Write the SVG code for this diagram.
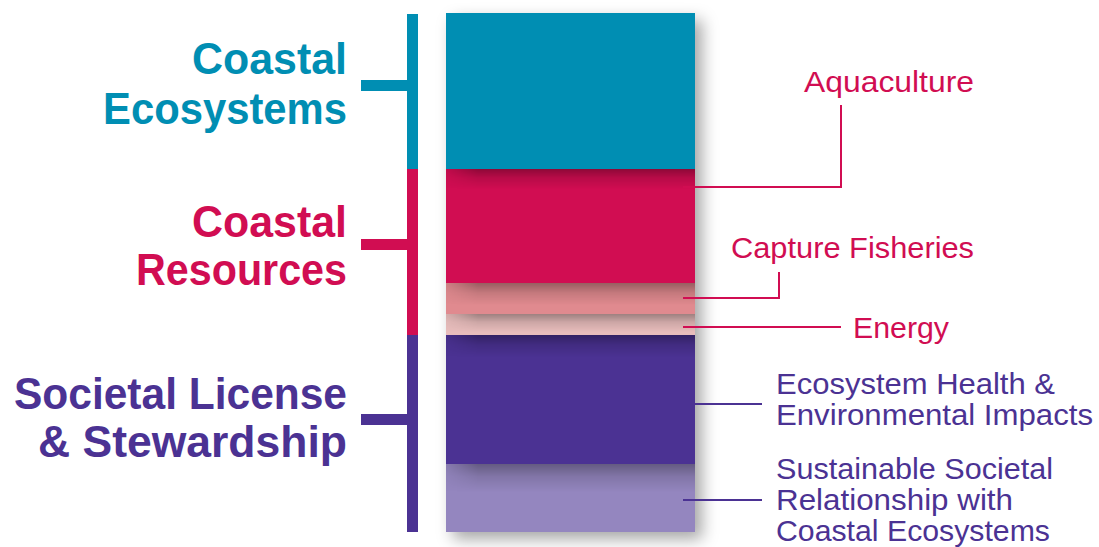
<svg xmlns="http://www.w3.org/2000/svg" width="1099" height="547" viewBox="0 0 1099 547">
  <style>
    .head { font-family: "Liberation Sans", Arial, sans-serif; font-weight: bold; font-size: 45px; text-anchor: end; }
    .lbl { font-family: "Liberation Sans", Arial, sans-serif; font-size: 30px; }
    .teal { fill: #008EB3; }
    .crim { fill: #D10D52; }
    .purp { fill: #4B3293; }
    .link { fill: none; stroke-width: 2; }
    .link.crim { stroke: #D10D52; fill: none; }
    .link.purp { stroke: #4B3293; fill: none; }
    .shade { fill: url(#shadeV); mask: url(#fadeLeft); }
  </style>
  <defs>
    <filter id="stackShadow" x="-20%" y="-20%" width="140%" height="140%">
      <feDropShadow dx="7" dy="7" stdDeviation="8" flood-color="#000" flood-opacity="0.35"/>
    </filter>
    <!-- darkening at the top of a band, cast by the band above -->
    <linearGradient id="shadeV" x1="0" y1="0" x2="0" y2="1">
      <stop offset="0" stop-color="#000" stop-opacity="0.32"/>
      <stop offset="0.45" stop-color="#000" stop-opacity="0.12"/>
      <stop offset="1" stop-color="#000" stop-opacity="0"/>
    </linearGradient>
    <linearGradient id="fadeH" gradientUnits="userSpaceOnUse" x1="446" y1="0" x2="478" y2="0">
      <stop offset="0" stop-color="#fff" stop-opacity="0.25"/>
      <stop offset="1" stop-color="#fff" stop-opacity="1"/>
    </linearGradient>
    <mask id="fadeLeft" maskUnits="userSpaceOnUse" x="440" y="0" width="270" height="547">
      <rect x="446" y="0" width="249" height="547" fill="url(#fadeH)"/>
    </mask>
  </defs>

  <rect width="1099" height="547" fill="#FFFFFF"/>

  <!-- stacked bands -->
  <g id="stack">
    <rect x="446" y="13" width="249" height="519" fill="#999" filter="url(#stackShadow)"/>
    <rect x="446" y="13" width="249" height="156" fill="#008EB3"/>
    <rect x="446" y="169" width="249" height="114" fill="#D10D52"/>
    <rect x="446" y="283" width="249" height="31" fill="#E08A8F"/>
    <rect x="446" y="314" width="249" height="21" fill="#E8BDBC"/>
    <rect x="446" y="335" width="249" height="129" fill="#4B3293"/>
    <rect x="446" y="464" width="249" height="68" fill="#9486BF"/>
    <rect class="shade" x="446" y="169" width="249" height="20"/>
    <rect class="shade" x="446" y="283" width="249" height="22"/>
    <rect class="shade" x="446" y="314" width="249" height="18"/>
    <rect class="shade" x="446" y="335" width="249" height="22"/>
    <rect class="shade" x="446" y="464" width="249" height="28"/>
  </g>

  <!-- category brackets -->
  <g id="bracket-ecosystems">
    <rect x="407" y="14" width="11" height="155" class="teal"/>
    <rect x="361" y="80" width="46" height="11" class="teal"/>
    <text class="head teal" x="347" y="74" textLength="155" lengthAdjust="spacingAndGlyphs">Coastal</text>
    <text class="head teal" x="347" y="124" textLength="244" lengthAdjust="spacingAndGlyphs">Ecosystems</text>
  </g>
  <g id="bracket-resources">
    <rect x="407" y="169" width="11" height="166" class="crim"/>
    <rect x="361" y="239" width="46" height="11" class="crim"/>
    <text class="head crim" x="347" y="237" textLength="155" lengthAdjust="spacingAndGlyphs">Coastal</text>
    <text class="head crim" x="347" y="285" textLength="211" lengthAdjust="spacingAndGlyphs">Resources</text>
  </g>
  <g id="bracket-societal">
    <rect x="407" y="335" width="11" height="197" class="purp"/>
    <rect x="361" y="414" width="46" height="11" class="purp"/>
    <text class="head purp" x="347" y="409" textLength="333" lengthAdjust="spacingAndGlyphs">Societal License</text>
    <text class="head purp" x="347" y="457" textLength="309" lengthAdjust="spacingAndGlyphs">&amp; Stewardship</text>
  </g>

  <!-- leader lines -->
  <g id="connectors">
    <polyline class="link crim" points="683,187 841,187 841,105"/>
    <polyline class="link crim" points="683,298 779,298 779,272"/>
    <line class="link crim" x1="683" y1="327" x2="841" y2="327"/>
    <line class="link purp" x1="695" y1="404" x2="762" y2="404"/>
    <line class="link purp" x1="683" y1="500" x2="762" y2="500"/>
  </g>

  <!-- sector labels -->
  <g id="label-aquaculture">
    <text class="lbl crim" x="804" y="92" textLength="170" lengthAdjust="spacingAndGlyphs">Aquaculture</text>
  </g>
  <g id="label-fisheries">
    <text class="lbl crim" x="731" y="258" textLength="243" lengthAdjust="spacingAndGlyphs">Capture Fisheries</text>
  </g>
  <g id="label-energy">
    <text class="lbl crim" x="853" y="338" textLength="96" lengthAdjust="spacingAndGlyphs">Energy</text>
  </g>
  <g id="label-health">
    <text class="lbl purp" x="776" y="394" textLength="279" lengthAdjust="spacingAndGlyphs">Ecosystem Health &amp;</text>
    <text class="lbl purp" x="776" y="425" textLength="317" lengthAdjust="spacingAndGlyphs">Environmental Impacts</text>
  </g>
  <g id="label-relationship">
    <text class="lbl purp" x="776" y="479" textLength="277" lengthAdjust="spacingAndGlyphs">Sustainable Societal</text>
    <text class="lbl purp" x="776" y="510" textLength="237" lengthAdjust="spacingAndGlyphs">Relationship with</text>
    <text class="lbl purp" x="776" y="541" textLength="274" lengthAdjust="spacingAndGlyphs">Coastal Ecosystems</text>
  </g>
</svg>
